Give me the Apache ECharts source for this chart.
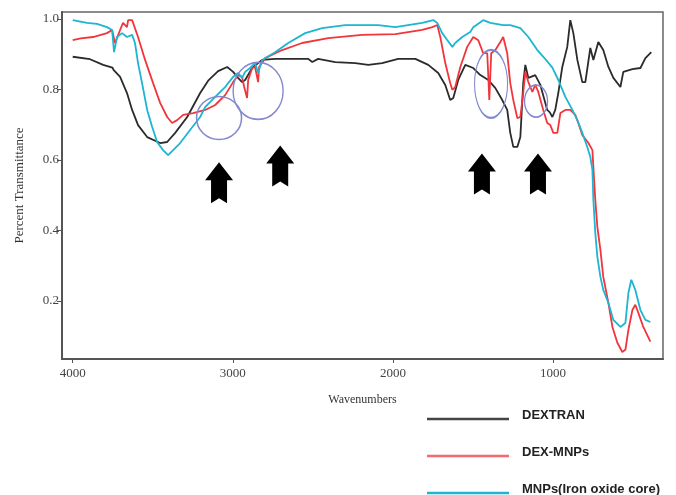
<!DOCTYPE html>
<html>
<head>
<meta charset="utf-8">
<script src="https://cdn.jsdelivr.net/npm/echarts@6/dist/echarts.min.js"></script>
<style>
  html, body { margin: 0; padding: 0; background: #fff; }
  #main { width: 676px; height: 495px; }
</style>
</head>
<body>
<div id="main"></div>
<script>
// FTIR spectra, [wavenumber, transmittance]
const names = ['DEXTRAN', 'DEX-MNPs', 'MNPs(Iron oxide core)']

const dextran = [
  [4000,0.893],[3892,0.886],[3810,0.870],[3752,0.862],[3745,0.856],[3735,0.858],[3704,0.836],
  [3661,0.790],[3629,0.742],[3592,0.699],[3535,0.665],[3454,0.648],[3410,0.651],[3360,0.677],
  [3285,0.722],[3204,0.790],[3154,0.825],[3092,0.852],[3035,0.864],[2998,0.850],[2967,0.833],
  [2942,0.821],[2923,0.827],[2879,0.861],[2817,0.884],[2736,0.887],[2529,0.887],[2504,0.878],
  [2467,0.887],[2360,0.878],[2235,0.875],[2154,0.870],[2067,0.875],[1967,0.887],[1860,0.887],
  [1779,0.870],[1717,0.847],[1673,0.813],[1642,0.770],[1623,0.776],[1592,0.827],[1548,0.870],
  [1498,0.861],[1454,0.841],[1404,0.827],[1360,0.804],[1317,0.770],[1286,0.742],[1267,0.677],
  [1248,0.637],[1223,0.637],[1204,0.665],[1186,0.818],[1173,0.870],[1154,0.833],[1111,0.841],
  [1079,0.813],[1036,0.742],[1020,0.735],[1004,0.722],[986,0.742],[967,0.790],[942,0.864],
  [911,0.921],[892,0.997],[873,0.960],[848,0.884],[817,0.821],[798,0.821],[767,0.918],
  [748,0.884],[717,0.935],[686,0.912],[654,0.864],[623,0.833],[579,0.807],[561,0.850],
  [504,0.858],[454,0.861],[423,0.889],[386,0.906]
]

const dexMnps = [
  [4000,0.940],[3950,0.945],[3873,0.949],[3786,0.960],[3754,0.969],[3736,0.932],[3704,0.969],
  [3686,0.989],[3661,0.977],[3654,0.997],[3629,0.997],[3592,0.949],[3548,0.884],[3498,0.818],
  [3454,0.762],[3410,0.722],[3379,0.705],[3348,0.713],[3310,0.728],[3248,0.733],[3173,0.742],
  [3110,0.756],[3048,0.784],[2998,0.821],[2967,0.841],[2942,0.836],[2929,0.807],[2911,0.776],
  [2904,0.827],[2879,0.861],[2861,0.864],[2842,0.821],[2836,0.864],[2798,0.889],[2692,0.912],
  [2567,0.932],[2404,0.946],[2192,0.955],[1985,0.957],[1817,0.969],[1754,0.977],[1723,0.983],
  [1704,0.949],[1673,0.875],[1642,0.818],[1629,0.799],[1611,0.807],[1579,0.864],[1536,0.921],
  [1498,0.949],[1467,0.940],[1436,0.903],[1411,0.903],[1404,0.836],[1398,0.770],[1386,0.903],
  [1360,0.912],[1329,0.935],[1311,0.949],[1286,0.903],[1267,0.818],[1248,0.770],[1223,0.719],
  [1204,0.722],[1186,0.790],[1173,0.850],[1154,0.821],[1129,0.793],[1111,0.813],[1092,0.793],
  [1061,0.742],[1036,0.705],[1017,0.699],[998,0.677],[973,0.677],[954,0.733],[923,0.742],
  [892,0.742],[861,0.728],[842,0.705],[817,0.671],[779,0.648],[754,0.628],[748,0.580],
  [736,0.487],[723,0.410],[704,0.345],[686,0.268],[654,0.194],[629,0.126],[598,0.081],
  [567,0.055],[548,0.061],[529,0.118],[504,0.174],[486,0.189],[467,0.166],[436,0.126],[392,0.084]
]

const mnps = [
  [4000,0.997],[3911,0.989],[3848,0.986],[3786,0.977],[3754,0.969],[3742,0.906],[3723,0.949],
  [3692,0.960],[3661,0.949],[3629,0.955],[3611,0.932],[3592,0.875],[3567,0.818],[3535,0.742],
  [3504,0.694],[3473,0.651],[3436,0.628],[3404,0.614],[3392,0.611],[3329,0.648],[3267,0.685],
  [3204,0.722],[3173,0.750],[3110,0.779],[3048,0.807],[2998,0.836],[2967,0.847],[2942,0.833],
  [2923,0.850],[2892,0.861],[2861,0.875],[2842,0.847],[2817,0.884],[2736,0.906],[2654,0.932],
  [2548,0.960],[2442,0.974],[2298,0.983],[2092,0.983],[1985,0.977],[1817,0.989],[1748,0.997],
  [1723,0.989],[1692,0.960],[1660,0.940],[1629,0.921],[1611,0.932],[1567,0.949],[1517,0.963],
  [1498,0.977],[1454,0.991],[1436,0.997],[1392,0.989],[1311,0.983],[1267,0.983],[1204,0.974],
  [1154,0.949],[1098,0.912],[1055,0.890],[1004,0.862],[967,0.827],[923,0.779],[879,0.742],
  [848,0.713],[817,0.677],[786,0.637],[767,0.609],[754,0.572],[748,0.487],[736,0.393],
  [723,0.325],[704,0.268],[686,0.231],[654,0.194],[623,0.146],[579,0.126],[548,0.137],
  [529,0.223],[511,0.260],[486,0.231],[454,0.174],[423,0.146],[392,0.140]
]

const xTicks = [4000, 3000, 2000, 1000]
const yTicks = [0.2, 0.4, 0.6, 0.8, 1.0]

// annotations (data coords): rings and arrows
const rings = [[3086,0.719],[2842,0.796],[1387,0.816],[1106,0.767]]
const ringSizes = [[45,43],[50,57],[33,68],[23,32]]
const arrows = [[3086,0.535],[2704,0.583],[1444,0.560],[1094,0.560]]

const colors = ['#2b2b2b', '#f2353b', '#1cb5d2']
const legendColors = ['#444', '#f06a70', '#1cb5d2']
const arrowPath = 'path://M14 0 L28 18 L22 18 L22 41 L14 36 L6 41 L6 18 L0 18 Z'

var chart = echarts.init(document.getElementById('main'), null, { renderer: 'canvas' })

var marks = []
rings.forEach(function (p, i) {
  marks.push({
    coord: p,
    symbol: 'circle',
    symbolSize: ringSizes[i],
    itemStyle: { color: 'rgba(0,0,0,0)', borderColor: '#8388d0', borderWidth: 1.5 }
  })
})
arrows.forEach(function (p) {
  marks.push({
    coord: p,
    symbol: arrowPath,
    symbolSize: [28, 41],
    itemStyle: { color: '#000', borderWidth: 0 }
  })
})

// legend drawn by hand, the built-in one wraps into columns at the page bottom
var legendItems = []
names.forEach(function (n, i) {
  var y = 419 + i * 37
  legendItems.push({
    type: 'line',
    shape: { x1: 427, y1: y, x2: 509, y2: y },
    style: { stroke: legendColors[i], lineWidth: 2.5 }
  })
  legendItems.push({
    type: 'text',
    x: 522, y: y - 4,
    style: {
      text: n, fill: '#222',
      font: 'bold 13px "Liberation Sans", Arial, sans-serif',
      verticalAlign: 'middle'
    }
  })
})

var serif = 'Liberation Serif'

var option = {
  animation: false,
  color: colors,
  graphic: legendItems,
  grid: {
    left: 62, right: 13, top: 12, bottom: 136,
    show: true, borderColor: '#666', borderWidth: 1.5,
    outerBoundsMode: 'none'
  },
  xAxis: {
    type: 'value',
    inverse: true,
    min: 313, max: 4067,
    name: 'Wavenumbers',
    nameLocation: 'middle',
    nameGap: 35,
    nameTextStyle: { fontFamily: serif, fontSize: 12, color: '#333' },
    splitLine: { show: false },
    axisLine: { onZero: false, lineStyle: { color: '#555', width: 2 } },
    axisTick: { customValues: xTicks, length: 4, lineStyle: { color: '#555' } },
    axisLabel: {
      customValues: xTicks, margin: 8,
      fontFamily: serif, fontSize: 13, color: '#444',
      formatter: function (v) { return String(v) }
    }
  },
  yAxis: {
    type: 'value',
    min: 0.035, max: 1.02,
    name: 'Percent Transmittance',
    nameLocation: 'middle',
    nameGap: 36,
    nameTextStyle: { fontFamily: serif, fontSize: 13, color: '#333' },
    splitLine: { show: false },
    axisLine: { onZero: false, lineStyle: { color: '#555', width: 2 } },
    axisTick: { customValues: yTicks, length: 5, lineStyle: { color: '#555' } },
    axisLabel: {
      customValues: yTicks, margin: 3,
      fontFamily: serif, fontSize: 13, color: '#444',
      formatter: function (v) { return v.toFixed(1) }
    }
  },
  series: [
    {
      name: names[0], type: 'line', data: dextran,
      showSymbol: false, lineStyle: { width: 1.8 },
      markPoint: { data: marks, label: { show: false }, animation: false }
    },
    {
      name: names[1], type: 'line', data: dexMnps,
      showSymbol: false, lineStyle: { width: 1.8 }
    },
    {
      name: names[2], type: 'line', data: mnps,
      showSymbol: false, lineStyle: { width: 1.8 }
    }
  ]
}

chart.setOption(option)
</script>
</body>
</html>
